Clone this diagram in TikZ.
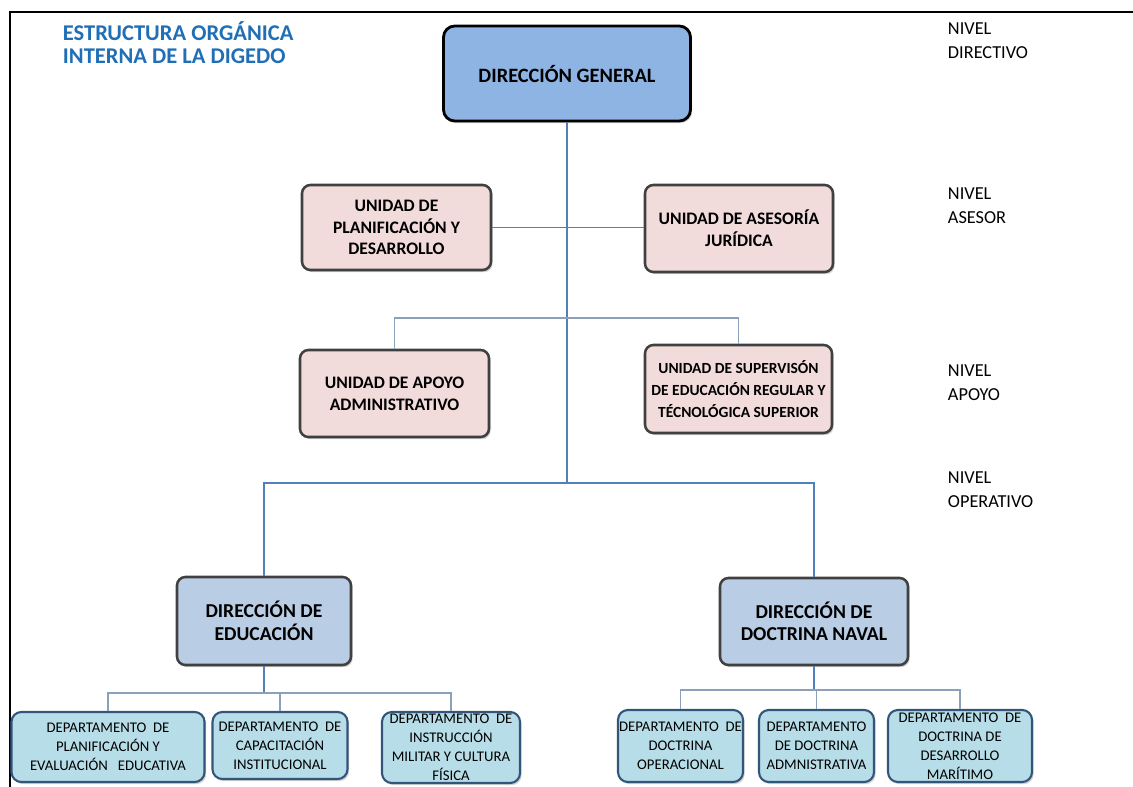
\documentclass[tikz,border=0pt]{standalone}
\usepackage{fontspec}
\setmainfont{Carlito}
\usetikzlibrary{shadows}
\definecolor{titleblue}{RGB}{31,110,182}
\definecolor{dgfill}{RGB}{142,180,227}
\definecolor{unitfill}{RGB}{242,220,219}
\definecolor{dirfill}{RGB}{185,205,229}
\definecolor{depfill}{RGB}{183,222,232}
\definecolor{depline}{RGB}{52,85,122}
\definecolor{boxline}{RGB}{64,64,64}
\definecolor{linkblue}{RGB}{79,129,189}
\definecolor{linkgray}{RGB}{140,160,185}
\begin{document}
\begin{tikzpicture}[x=0.025cm, y=-0.025cm,
  boxsize/.style 2 args={minimum width=#1*0.025cm, minimum height=#2*0.025cm},
  box/.style={rounded corners=6pt, align=center, inner sep=0pt,
    drop shadow={opacity=0.35, shadow xshift=1.2pt, shadow yshift=-1.5pt}},
  dgbox/.style={box, rounded corners=8pt, draw=black, line width=2pt, fill=dgfill,
    font=\fontsize{14.5}{17}\selectfont\bfseries},
  unitbox/.style={box, draw=boxline, line width=1.8pt, fill=unitfill,
    font=\fontsize{12.5}{15.5}\selectfont\bfseries},
  dirbox/.style={box, draw=boxline, line width=1.8pt, fill=dirfill,
    font=\fontsize{14}{16}\selectfont\bfseries},
  depbox/.style={box, rounded corners=7pt, draw=depline, line width=1.5pt, fill=depfill,
    font=\fontsize{10.5}{13.5}\selectfont},
  level/.style={anchor=west, align=left, font=\fontsize{13}{17}\selectfont},
  link/.style={linkblue, line width=0.8pt},
  sublink/.style={linkgray, line width=0.8pt}]
  \useasboundingbox (0,0) rectangle (1133,787);
  % Frame
  \draw[line width=2pt] (10,787) -- (10,12) -- (1133,12);
  % Title
  \node[anchor=north west, align=left, text=titleblue,
    font=\fontsize{16}{16}\selectfont\bfseries] (title) at (58,17)
    {ESTRUCTURA ORGÁNICA\\INTERNA DE LA DIGEDO};
  % Levels
  \node[level] (lvdir) at (943,41) {NIVEL\\DIRECTIVO};
  \node[level] (lvase) at (943,206) {NIVEL\\ASESOR};
  \node[level] (lvapo) at (943,383) {NIVEL\\APOYO};
  \node[level] (lvope) at (943,490) {NIVEL\\OPERATIVO};
  % Top
  \node[dgbox, boxsize={247}{95}, text depth=-6pt] (dg) at (567,73.5) {DIRECCIÓN GENERAL};
  % Asesor
  \node[unitbox, boxsize={189}{85}] (plan) at (396.5,227.5)
    {UNIDAD DE\\PLANIFICACIÓN Y\\DESARROLLO};
  \node[unitbox, boxsize={188}{87}] (jur) at (739,228.5)
    {UNIDAD DE ASESORÍA\\JURÍDICA};
  % Apoyo
  \node[unitbox, boxsize={189}{87}] (apoyo) at (394.5,393.5)
    {UNIDAD DE APOYO\\ADMINISTRATIVO};
  \node[unitbox, font=\fontsize{11}{15.5}\selectfont\bfseries,
    boxsize={187}{88}] (sup) at (738.5,389)
    {UNIDAD DE SUPERVISÓN\\DE EDUCACIÓN REGULAR Y\\TÉCNOLÓGICA SUPERIOR};
  % Operativo
  \node[dirbox, boxsize={174}{88}] (edu) at (264,621)
    {DIRECCIÓN DE\\EDUCACIÓN};
  \node[dirbox, boxsize={188}{87}] (doc) at (814,621.5)
    {DIRECCIÓN DE\\DOCTRINA NAVAL};
  % Departamentos
  \node[depbox, boxsize={193}{70}] (depA) at (108,747)
    {DEPARTAMENTO~ DE\\PLANIFICACIÓN Y\\EVALUACIÓN~~ EDUCATIVA};
  \node[depbox, boxsize={135}{67}] (depB) at (280,745.5)
    {DEPARTAMENTO~ DE\\CAPACITACIÓN\\INSTITUCIONAL};
  \node[depbox, boxsize={138}{71}] (depC) at (451,747.5)
    {DEPARTAMENTO~ DE\\INSTRUCCIÓN\\MILITAR Y CULTURA\\FÍSICA};
  \node[depbox, boxsize={125}{72}] (depD) at (680.5,746)
    {DEPARTAMENTO~ DE\\DOCTRINA\\OPERACIONAL};
  \node[depbox, boxsize={115}{72}] (depE) at (816.5,746)
    {DEPARTAMENTO\\DE DOCTRINA\\ADMNISTRATIVA};
  \node[depbox, boxsize={144}{72}] (depF) at (960,746)
    {DEPARTAMENTO~ DE\\DOCTRINA DE\\DESARROLLO\\MARÍTIMO};
  % Connectors
  \coordinate (abus) at (567,318);
  \coordinate (obus) at (567,483);
  \coordinate (lbus) at (264,693);
  \coordinate (rbus) at (814,690);
  \draw[link] (dg.south) -- (obus);
  \draw[link] (plan.east) -- (plan.east -| jur.west);
  \draw[sublink] (apoyo.north) |- (abus) -| (sup.north);
  \draw[link] (edu.north) |- (obus) -| (doc.north);
  \draw[link] (edu.south) -- (lbus);
  \draw[sublink] (depA.north) |- (lbus) -| (depC.north);
  \draw[sublink] (depB.north) -- (depB.north |- lbus);
  \draw[link] (doc.south) -- (rbus);
  \draw[sublink] (depD.north) |- (rbus) -| (depF.north);
  \draw[sublink] (depE.north) -- (depE.north |- rbus);
\end{tikzpicture}
\end{document}
